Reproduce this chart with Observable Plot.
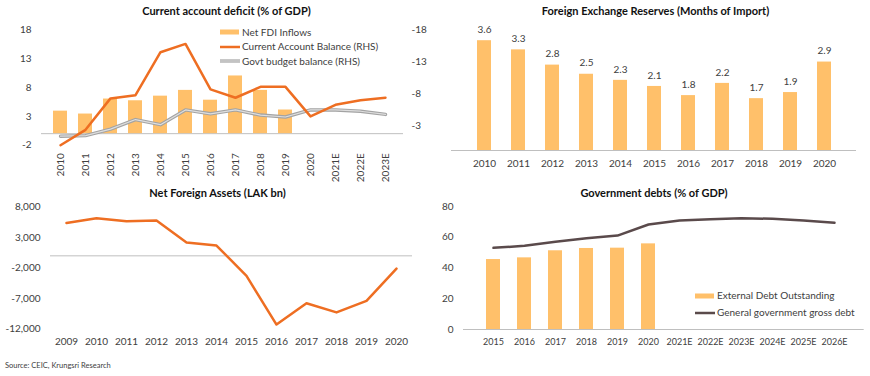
<!DOCTYPE html>
<html>
<head>
<meta charset="utf-8">
<script src="https://cdn.jsdelivr.net/npm/d3@7"></script>
<script src="https://cdn.jsdelivr.net/npm/@observablehq/plot@0.6"></script>
<style>
  html, body { margin: 0; padding: 0; background: #fff; }
  #root { position: relative; width: 870px; height: 376px; overflow: hidden; font-family: Lato, "Open Sans", sans-serif; color: #404040; }
  .panel { position: absolute; }
  .title { position: absolute; font-weight: bold; font-size: 11px; color: #111; white-space: nowrap; transform: translate(-50%, -50%); }
  .legend { position: absolute; font-size: 10px; color: #404040; line-height: 15px; white-space: nowrap; }
  .legend .item { display: flex; align-items: center; height: 15px; }
  .legend svg { margin-right: 2px; }
  .source { position: absolute; left: 5px; top: 361px; font-size: 7.5px; color: #404040; white-space: nowrap; }
</style>
</head>
<body>
<div id="root"></div>
<script>
// ---------- DATA ----------
// Panel 1: Current account deficit (% of GDP)
const caYears = ["2010","2011","2012","2013","2014","2015","2016","2017","2018","2019","2020","2021E","2022E","2023E"];
const fdiYears = ["2010","2011","2012","2013","2014","2015","2016","2017","2018","2019"];
const fdiInflows = [3.9, 3.4, 6.0, 5.7, 6.5, 7.5, 5.8, 10.0, 7.5, 4.1];
const caBalance = [0.0, -2.4, -7.3, -7.8, -14.5, -15.8, -8.7, -7.4, -9.1, -9.1, -4.5, -6.3, -7.0, -7.4];
const govtBalance = [-1.4, -1.5, -2.5, -4.0, -3.2, -5.5, -4.9, -5.5, -4.7, -4.4, -5.5, -5.5, -5.3, -4.8];
const caLhsDomain = [-2, 18];
const caRhsDomain = [0, -18];
const caLhsTicks = [18, 13, 8, 3, -2];
const caRhsTicks = [-18, -13, -8, -3];
const caLegend = ["Net FDI Inflows", "Current Account Balance (RHS)", "Govt budget balance (RHS)"];

// Panel 2: Foreign Exchange Reserves (Months of Import)
const fxYears = ["2010","2011","2012","2013","2014","2015","2016","2017","2018","2019","2020"];
const fxMonths = [3.6, 3.3, 2.8, 2.5, 2.3, 2.1, 1.8, 2.2, 1.7, 1.9, 2.9];

// Panel 3: Net Foreign Assets (LAK bn)
const nfaYears = ["2009","2010","2011","2012","2013","2014","2015","2016","2017","2018","2019","2020"];
const nfaValues = [5400, 6200, 5700, 5800, 2200, 1700, -3300, -11300, -7800, -9300, -7400, -2100];
const nfaTicks = [8000, 3000, -2000, -7000, -12000];

// Panel 4: Government debts (% of GDP)
const debtYears = ["2015","2016","2017","2018","2019","2020","2021E","2022E","2023E","2024E","2025E","2026E"];
const extDebtYears = ["2015","2016","2017","2018","2019","2020"];
const extDebt = [45.5, 46.6, 51.2, 52.7, 52.9, 55.7];
const grossDebt = [53.1, 54.4, 57.0, 59.4, 61.1, 68.3, 70.9, 71.7, 72.4, 72.0, 70.9, 69.4];
const debtTicks = [0, 20, 40, 60, 80];
const debtLegend = ["External Debt Outstanding", "General government gross debt"];

// ---------- STYLE ----------
const BAR = "#FFC06A";
const ORANGE = "#EE6E22";
const GRAY_OUT = "#A3A3A3";
const GRAY_IN = "#DEDEDE";
const DARK = "#5A4A4B";
const AXIS = "#BFBFBF";
const TXT = "#404040";
const FONT = "Lato, 'Open Sans', sans-serif";

const hyphen = d => (d < 0 ? "-" : "") + d3.format(",")(Math.abs(d));
const root = document.getElementById("root");

function place(el, left, top) {
  const div = document.createElement("div");
  div.className = "panel";
  div.style.left = left + "px";
  div.style.top = top + "px";
  div.appendChild(el);
  root.appendChild(div);
}
function title(text, cx, cy) {
  const d = document.createElement("div");
  d.className = "title";
  d.style.left = cx + "px";
  d.style.top = cy + "px";
  d.textContent = text;
  root.appendChild(d);
}
function swatch(kind, color) {
  if (kind === "bar") return `<svg width="20" height="6"><rect x="0" y="0.5" width="19" height="5" fill="${color}"/></svg>`;
  if (kind === "double") return `<svg width="20" height="6"><line x1="0" x2="20" y1="3" y2="3" stroke="${GRAY_OUT}" stroke-width="3.2"/><line x1="0" x2="20" y1="3" y2="3" stroke="${GRAY_IN}" stroke-width="1.1"/></svg>`;
  return `<svg width="20" height="6"><line x1="0" x2="20" y1="3" y2="3" stroke="${color}" stroke-width="2.5"/></svg>`;
}
function legend(items, left, top, gap) {
  const d = document.createElement("div");
  d.className = "legend";
  d.style.left = left + "px";
  d.style.top = top + "px";
  d.innerHTML = items.map(([kind, color, label]) =>
    `<div class="item" style="height:${gap}px">${swatch(kind, color)}<span>${label}</span></div>`).join("");
  root.appendChild(d);
}

const baseStyle = {fontFamily: FONT, fontSize: "10px", color: TXT, background: "transparent", overflow: "visible"};

// ---------- PANEL 1 ----------
const rhsToLhs = d3.scaleLinear().domain(caRhsDomain).range(caLhsDomain);
const fdiData = fdiYears.map((year, i) => ({year, value: fdiInflows[i]}));
const caData = caYears.map((year, i) => ({year, value: caBalance[i]}));
const govtData = caYears.map((year, i) => ({year, value: govtBalance[i]}));

const p1 = Plot.plot({
  width: 435, height: 190,
  marginLeft: 41, marginRight: 32, marginTop: 29.3, marginBottom: 45.3,
  style: baseStyle,
  x: {type: "band", domain: caYears, padding: 0.45, axis: null},
  y: {domain: caLhsDomain, axis: null},
  marks: [
    Plot.ruleY([0], {stroke: AXIS, strokeWidth: 1}),
    Plot.barY(fdiData, {x: "year", y: "value", fill: BAR}),
    Plot.lineY(govtData, {x: "year", y: d => rhsToLhs(d.value), stroke: GRAY_OUT, strokeWidth: 3.4}),
    Plot.lineY(govtData, {x: "year", y: d => rhsToLhs(d.value), stroke: GRAY_IN, strokeWidth: 1.2}),
    Plot.lineY(caData, {x: "year", y: d => rhsToLhs(d.value), stroke: ORANGE, strokeWidth: 2.5}),
    Plot.axisY(caLhsTicks, {anchor: "left", tickSize: 0, tickPadding: 10, tickFormat: hyphen, fill: TXT, label: null}),
    Plot.axisY(caRhsTicks.map(rhsToLhs), {anchor: "right", tickSize: 0, tickPadding: 8,
      tickFormat: d => hyphen(Math.round(rhsToLhs.invert(d))), fill: TXT, textAnchor: "start", label: null}),
    Plot.axisX({tickRotate: -90, tickSize: 0, tickPadding: 8, fill: TXT, label: null})
  ]
});
place(p1, 0, 0);
title("Current account deficit (% of GDP)", 226.5, 10);
legend([["bar", BAR, caLegend[0]], ["line", ORANGE, caLegend[1]], ["double", null, caLegend[2]]], 220, 25, 14.5);

// ---------- PANEL 2 ----------
const fxData = fxYears.map((year, i) => ({year, value: fxMonths[i]}));
const p2 = Plot.plot({
  width: 435, height: 190,
  marginLeft: 16, marginRight: 14, marginTop: 28, marginBottom: 40,
  style: baseStyle,
  x: {type: "band", domain: fxYears, padding: 0.6, axis: null},
  y: {domain: [0, 4], axis: null},
  marks: [
    Plot.barY(fxData, {x: "year", y: "value", fill: BAR}),
    Plot.ruleY([0], {stroke: AXIS, strokeWidth: 1}),
    Plot.text(fxData, {x: "year", y: "value", text: d => d.value.toFixed(1), dy: -11, fill: TXT}),
    Plot.axisX({tickSize: 0, tickPadding: 9, fill: TXT, label: null})
  ]
});
place(p2, 435, 0);
title("Foreign Exchange Reserves (Months of Import)", 655.5, 10);

// ---------- PANEL 3 ----------
const nfaData = nfaYears.map((year, i) => ({year, value: nfaValues[i]}));
const p3 = Plot.plot({
  width: 435, height: 186,
  marginLeft: 50, marginRight: 23, marginTop: 16.7, marginBottom: 47.7,
  style: baseStyle,
  x: {type: "band", domain: nfaYears, padding: 0, axis: null},
  y: {domain: [-12000, 8000], axis: null},
  marks: [
    Plot.ruleY([0], {stroke: AXIS, strokeWidth: 1}),
    Plot.lineY(nfaData, {x: "year", y: "value", stroke: ORANGE, strokeWidth: 2.5}),
    Plot.axisY(nfaTicks, {anchor: "left", tickSize: 0, tickPadding: 10, tickFormat: hyphen, fill: TXT, label: null}),
    Plot.axisX({tickSize: 0, tickPadding: 9, fill: TXT, label: null})
  ]
});
place(p3, 0, 190);
title("Net Foreign Assets (LAK bn)", 217.5, 191.5);

// ---------- PANEL 4 ----------
const extData = extDebtYears.map((year, i) => ({year, value: extDebt[i]}));
const grossData = debtYears.map((year, i) => ({year, value: grossDebt[i]}));
const p4 = Plot.plot({
  width: 435, height: 186,
  marginLeft: 28, marginRight: 6.3, marginTop: 16, marginBottom: 47,
  style: baseStyle,
  x: {type: "band", domain: debtYears, padding: 0.55, axis: null},
  y: {domain: [0, 80], axis: null},
  marks: [
    Plot.barY(extData, {x: "year", y: "value", fill: BAR}),
    Plot.ruleY([0], {stroke: AXIS, strokeWidth: 1}),
    Plot.lineY(grossData, {x: "year", y: "value", stroke: DARK, strokeWidth: 2.5}),
    Plot.axisY(debtTicks, {anchor: "left", tickSize: 0, tickPadding: 10, fill: TXT, label: null}),
    Plot.axisX({tickSize: 0, tickPadding: 9, fill: TXT, label: null, fontSize: 9})
  ]
});
place(p4, 435, 190);
title("Government debts (% of GDP)", 654, 191.5);
legend([["bar", BAR, debtLegend[0]], ["line", DARK, debtLegend[1]]], 695, 287, 17);

// ---------- SOURCE ----------
const src = document.createElement("div");
src.className = "source";
src.textContent = "Source: CEIC, Krungsri Research";
root.appendChild(src);
</script>
</body>
</html>
